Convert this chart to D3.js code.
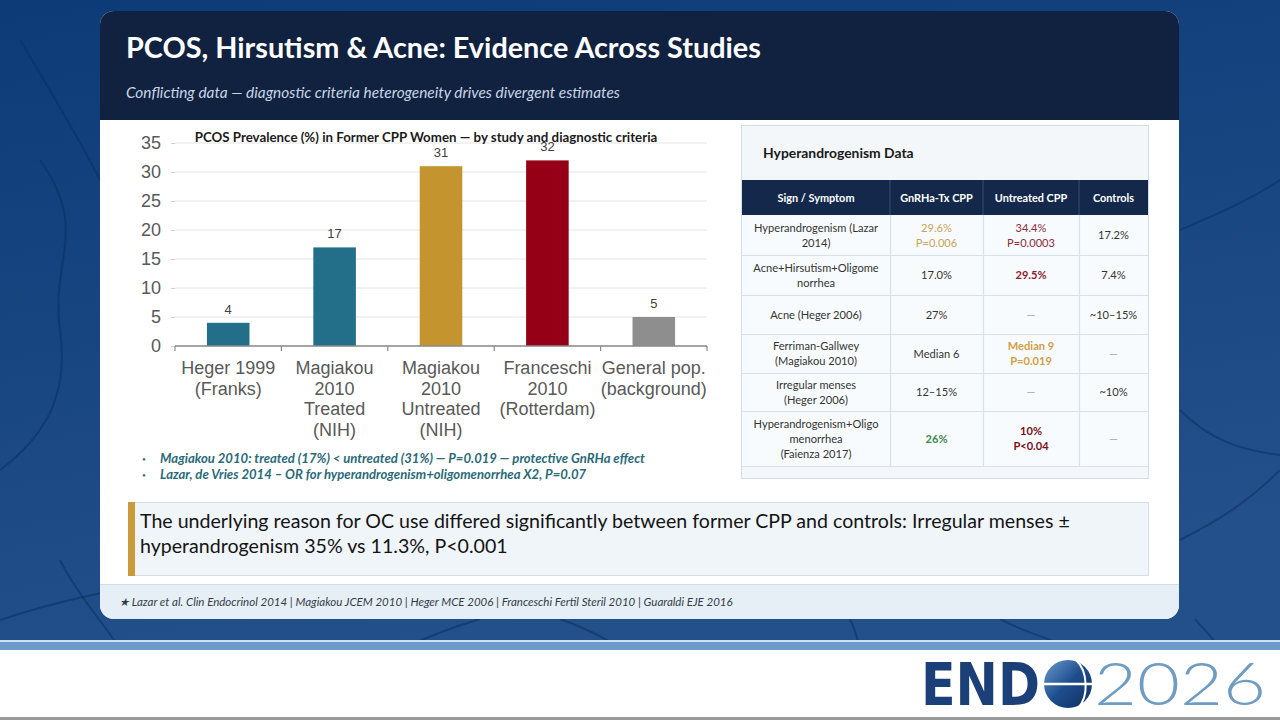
<!DOCTYPE html>
<html>
<head>
<meta charset="utf-8">
<script src="https://cdn.jsdelivr.net/npm/d3@7"></script>
<style>
  html, body { margin: 0; padding: 0; background: #fff; }
  svg { display: block; }
  .cal { font-family: Lato, "Open Sans", sans-serif; }
  .arial { font-family: "Liberation Sans", Arial, sans-serif; }
</style>
</head>
<body>
<div id="slide"></div>
<script>
// ---- Chart data ----
var studies = ["Heger 1999|(Franks)", "Magiakou|2010|Treated|(NIH)", "Magiakou|2010|Untreated|(NIH)", "Franceschi|2010|(Rotterdam)", "General pop.|(background)"];
var prevalence = [4, 17, 31, 32, 5];
var yTicks = [0, 5, 10, 15, 20, 25, 30, 35];

// ---- Table data ----
var tableHeader = ["Sign / Symptom", "GnRHa-Tx CPP", "Untreated CPP", "Controls"];
var signs = ["Hyperandrogenism (Lazar|2014)", "Acne+Hirsutism+Oligome|norrhea", "Acne (Heger 2006)", "Ferriman-Gallwey|(Magiakou 2010)", "Irregular menses|(Heger 2006)", "Hyperandrogenism+Oligo|menorrhea|(Faienza 2017)"];
var gnrhaTx = ["29.6%|P=0.006", "17.0%", "27%", "Median 6", "12–15%", "26%"];
var untreated = ["34.4%|P=0.0003", "29.5%", "—", "Median 9|P=0.019", "—", "10%|P<0.04"];
var controls = ["17.2%", "7.4%", "~10–15%", "—", "~10%", "—"];

var bullets = [
  "Magiakou 2010: treated (17%) < untreated (31%) — P=0.019 — protective GnRHa effect",
  "Lazar, de Vries 2014 – OR for hyperandrogenism+oligomenorrhea X2, P=0.07"
];
var calloutLines = [
  "The underlying reason for OC use differed significantly between former CPP and controls: Irregular menses ±",
  "hyperandrogenism 35% vs 11.3%, P<0.001"
];
var footnote = "★ Lazar et al. Clin Endocrinol 2014 | Magiakou JCEM 2010 | Heger MCE 2006 | Franceschi Fertil Steril 2010 | Guaraldi EJE 2016";

var W = 1280, H = 720;
var svg = d3.select("#slide").append("svg").attr("width", W).attr("height", H);
var defs = svg.append("defs");

// ---- Background ----
var bg = defs.append("linearGradient").attr("id", "bg").attr("x1", 0).attr("y1", 0).attr("x2", 0.3).attr("y2", 1);
bg.append("stop").attr("offset", 0).attr("stop-color", "#0c3b77");
bg.append("stop").attr("offset", 1).attr("stop-color", "#23508a");
svg.append("rect").attr("width", W).attr("height", 650).attr("fill", "url(#bg)");

// faint vein lines in the backdrop
var veins = [
  "M0,470 C40,440 70,400 60,330 S90,230 40,160",
  "M0,620 C60,600 110,590 180,580",
  "M60,560 C80,600 110,630 120,650",
  "M20,40 C50,90 80,140 100,180",
  "M1180,230 C1215,215 1250,200 1280,180",
  "M1180,540 C1220,520 1250,500 1280,470",
  "M1180,410 C1210,440 1240,450 1280,455",
  "M1195,619 C1205,630 1215,640 1220,650",
  "M560,619 C590,630 610,640 620,650",
  "M400,650 C430,635 460,625 480,619",
  "M850,619 C855,630 858,640 860,650",
  "M1000,619 C1020,630 1050,640 1080,650"
];
svg.append("g").selectAll("path").data(veins).join("path")
  .attr("d", function(d){ return d; })
  .attr("fill", "none")
  .attr("stroke", "#0a2f63")
  .attr("stroke-opacity", 0.55)
  .attr("stroke-width", 2);

// bottom band + logo strip
svg.append("rect").attr("x", 0).attr("y", 640).attr("width", W).attr("height", 2).attr("fill", "#cfe2f3");
svg.append("rect").attr("x", 0).attr("y", 642).attr("width", W).attr("height", 8).attr("fill", "#6d9acb");
svg.append("rect").attr("x", 0).attr("y", 650).attr("width", W).attr("height", 68).attr("fill", "#ffffff");
svg.append("rect").attr("x", 0).attr("y", 717).attr("width", W).attr("height", 3).attr("fill", "#9a9a9a");

// ---- Card ----
var card = { x: 100, y: 11, w: 1079, h: 608, r: 14 };
defs.append("clipPath").attr("id", "cardClip").append("rect")
  .attr("x", card.x).attr("y", card.y).attr("width", card.w).attr("height", card.h).attr("rx", card.r);
var cardG = svg.append("g").attr("clip-path", "url(#cardClip)");
cardG.append("rect").attr("x", card.x).attr("y", card.y).attr("width", card.w).attr("height", card.h).attr("fill", "#ffffff");
cardG.append("rect").attr("x", card.x).attr("y", card.y).attr("width", card.w).attr("height", 109).attr("fill", "#10223f");
cardG.append("rect").attr("x", card.x).attr("y", 585).attr("width", card.w).attr("height", 40).attr("fill", "#e7eff6");
cardG.append("rect").attr("x", card.x).attr("y", 584).attr("width", card.w).attr("height", 1).attr("fill", "#d2dde8");

svg.append("text").attr("class", "cal")
  .attr("x", 126).attr("y", 58)
  .attr("fill", "#ffffff").attr("font-size", 28.8).attr("font-weight", 700)
  .text("PCOS, Hirsutism & Acne: Evidence Across Studies");
svg.append("text").attr("class", "cal")
  .attr("x", 126).attr("y", 98)
  .attr("fill", "#c9d5e6").attr("font-size", 15.4).attr("font-style", "italic")
  .text("Conflicting data — diagnostic criteria heterogeneity drives divergent estimates");

// ---- Bar chart ----
var margin = { top: 143, left: 175 };
var cw = 707 - 175, ch = 346 - 143;
var chart = svg.append("g").attr("transform", "translate(" + margin.left + "," + margin.top + ")");

var x = d3.scaleBand().domain(studies).range([0, cw]).paddingInner(0.6).paddingOuter(0.3);
var y = d3.scaleLinear().domain([0, 35]).range([ch, 0]);
var colors = d3.scaleOrdinal().domain(studies).range(["#236f8a", "#236f8a", "#c4952f", "#950017", "#8e8e8e"]);

// gridlines
chart.append("g").selectAll("line").data(yTicks).join("line")
  .attr("x1", 0).attr("x2", cw)
  .attr("y1", function(d){ return y(d); }).attr("y2", function(d){ return y(d); })
  .attr("stroke", "#e4e4e4").attr("stroke-width", 1);

var yAxis = d3.axisLeft(y).tickValues(yTicks).tickSize(4).tickPadding(10);
var yAxisG = chart.append("g").attr("class", "arial").call(yAxis);
yAxisG.select(".domain").remove();
yAxisG.selectAll("line").attr("stroke", "#d0d0d0");
yAxisG.selectAll("text").attr("font-size", 18).attr("fill", "#595959").attr("font-family", "Liberation Sans, Arial, sans-serif");

// bars
chart.selectAll(".bar").data(prevalence).join("rect")
  .attr("class", "bar")
  .attr("x", function(d, i){ return x(studies[i]); })
  .attr("width", x.bandwidth())
  .attr("y", function(d){ return y(d); })
  .attr("height", function(d){ return ch - y(d); })
  .attr("fill", function(d, i){ return colors(studies[i]); });

// value labels
chart.selectAll(".val").data(prevalence).join("text")
  .attr("class", "val arial")
  .attr("x", function(d, i){ return x(studies[i]) + x.bandwidth() / 2; })
  .attr("y", function(d){ return y(d) - 9; })
  .attr("text-anchor", "middle")
  .attr("font-size", 13).attr("fill", "#404040")
  .text(function(d){ return d; });

// x axis
var xBase = chart.append("g").attr("transform", "translate(0," + ch + ")");
xBase.append("line").attr("x1", 0).attr("x2", cw).attr("stroke", "#8a8a8a").attr("stroke-width", 1.5);
xBase.selectAll(".xt").data(d3.range(studies.length + 1)).join("line")
  .attr("x1", function(i){ return i * cw / studies.length; })
  .attr("x2", function(i){ return i * cw / studies.length; })
  .attr("y1", 0).attr("y2", 5).attr("stroke", "#8a8a8a").attr("stroke-width", 1.2);

var catLabels = xBase.selectAll(".cat").data(studies).join("text")
  .attr("class", "cat arial")
  .attr("text-anchor", "middle")
  .attr("font-size", 18).attr("fill", "#595959")
  .attr("transform", function(d){ return "translate(" + (x(d) + x.bandwidth() / 2) + ",28)"; });
catLabels.selectAll("tspan").data(function(d){ return d.split("|"); }).join("tspan")
  .attr("x", 0).attr("y", function(d, i){ return i * 20.7; })
  .text(function(d){ return d; });

// chart title (sits over the plot)
svg.append("text").attr("class", "cal")
  .attr("x", 426).attr("y", 142).attr("text-anchor", "middle")
  .attr("font-size", 13.3).attr("font-weight", 700).attr("fill", "#1b1b1b")
  .text("PCOS Prevalence (%) in Former CPP Women — by study and diagnostic criteria");

// bullets
var bl = svg.append("g").selectAll("g").data(bullets).join("g")
  .attr("transform", function(d, i){ return "translate(0," + (463 + i * 16) + ")"; });
bl.append("text").attr("x", 142).attr("font-size", 11).attr("fill", "#2a6a78").text("•");
bl.append("text").attr("class", "cal").attr("x", 160)
  .attr("font-size", 13.1).attr("font-style", "italic").attr("font-weight", 700).attr("fill", "#2a6a78")
  .text(function(d){ return d; });

// ---- Table panel ----
var panel = svg.append("g");
panel.append("rect").attr("x", 741.5).attr("y", 125.5).attr("width", 407).attr("height", 353)
  .attr("fill", "#f3f7fa").attr("stroke", "#d3dde7");
panel.append("text").attr("class", "cal").attr("x", 763).attr("y", 158)
  .attr("font-size", 13.9).attr("font-weight", 700).attr("fill", "#1a1a1a")
  .text("Hyperandrogenism Data");

var colX = [742, 890, 983, 1079, 1148];
var rowY = [215, 255, 295, 334, 373, 411, 466];
var hdrTop = 180;

panel.append("rect").attr("x", colX[0]).attr("y", hdrTop).attr("width", colX[4] - colX[0]).attr("height", rowY[0] - hdrTop).attr("fill", "#13284a");
panel.selectAll(".hdr").data(tableHeader).join("text")
  .attr("class", "hdr cal")
  .attr("x", function(d, i){ return (colX[i] + colX[i + 1]) / 2; })
  .attr("y", (hdrTop + rowY[0]) / 2 + 4)
  .attr("text-anchor", "middle").attr("font-size", 10.9).attr("font-weight", 700).attr("fill", "#ffffff")
  .text(function(d){ return d; });
panel.selectAll(".hdrsep").data(colX.slice(1, 4)).join("line")
  .attr("x1", function(d){ return d; }).attr("x2", function(d){ return d; })
  .attr("y1", hdrTop).attr("y2", rowY[0]).attr("stroke", "#3a4d6b");

panel.selectAll(".rowbg").data(signs).join("rect")
  .attr("x", colX[0]).attr("width", colX[4] - colX[0])
  .attr("y", function(d, i){ return rowY[i]; })
  .attr("height", function(d, i){ return rowY[i + 1] - rowY[i]; })
  .attr("fill", "#f8fbfd");
panel.selectAll(".hline").data(rowY.slice(1)).join("line")
  .attr("x1", colX[0]).attr("x2", colX[4])
  .attr("y1", function(d){ return d + 0.5; }).attr("y2", function(d){ return d + 0.5; })
  .attr("stroke", "#d8e2eb").attr("stroke-width", 1.2);
panel.selectAll(".vline").data(colX.slice(1, 4)).join("line")
  .attr("x1", function(d){ return d + 0.5; }).attr("x2", function(d){ return d + 0.5; })
  .attr("y1", rowY[0]).attr("y2", rowY[6])
  .attr("stroke", "#d8e2eb").attr("stroke-width", 1.2);

// emphasis styles per cell (row, column)
var cellStyle = {
  "0-1": { fill: "#c8a45c", weight: 400 },
  "0-2": { fill: "#8e2b3b", weight: 400 },
  "1-2": { fill: "#8b1b2c", weight: 700 },
  "3-2": { fill: "#d19e45", weight: 700 },
  "5-1": { fill: "#3d8a4c", weight: 700 },
  "5-2": { fill: "#7a1021", weight: 700 }
};
var columns = [signs, gnrhaTx, untreated, controls];
var cells = [];
signs.forEach(function(s, r){
  columns.forEach(function(col, c){
    cells.push({ r: r, c: c, lines: col[r].split("|") });
  });
});
var cellText = panel.selectAll(".cell").data(cells).join("text")
  .attr("class", "cell cal")
  .attr("text-anchor", "middle")
  .attr("font-size", 11.1)
  .attr("fill", function(d){
    var st = cellStyle[d.r + "-" + d.c];
    if (st) return st.fill;
    return d.lines[0] === "—" ? "#a8a8a8" : "#333333";
  })
  .attr("font-weight", function(d){
    var st = cellStyle[d.r + "-" + d.c];
    return st ? st.weight : 400;
  })
  .attr("transform", function(d){
    var cx = (colX[d.c] + colX[d.c + 1]) / 2;
    var cy = (rowY[d.r] + rowY[d.r + 1]) / 2 - (d.lines.length - 1) * 7.5 + 4;
    return "translate(" + cx + "," + cy + ")";
  });
cellText.selectAll("tspan").data(function(d){ return d.lines; }).join("tspan")
  .attr("x", 0).attr("y", function(d, i){ return i * 15; })
  .text(function(d){ return d; });

// ---- Callout ----
svg.append("rect").attr("x", 128.5).attr("y", 502.5).attr("width", 1020).attr("height", 73)
  .attr("fill", "#f0f5fa").attr("stroke", "#d6dfe8");
svg.append("rect").attr("x", 128).attr("y", 502).attr("width", 7).attr("height", 74).attr("fill", "#c99a3a");
svg.append("g").selectAll("text").data(calloutLines).join("text")
  .attr("class", "cal")
  .attr("x", 140).attr("y", function(d, i){ return 528 + i * 25; })
  .attr("font-size", 19.6).attr("fill", "#141414")
  .text(function(d){ return d; });

// footnote
svg.append("text").attr("class", "cal")
  .attr("x", 119).attr("y", 606)
  .attr("font-size", 11.5).attr("font-style", "italic").attr("fill", "#333c48")
  .text(footnote);

// ---- ENDO 2026 logo ----
var logo = svg.append("g");
logo.append("text").attr("x", 921).attr("y", 705)
  .attr("font-family", "'DejaVu Sans', sans-serif").attr("font-weight", 700)
  .attr("font-size", 58).attr("fill", "#1b3f77").attr("textLength", 119).attr("lengthAdjust", "spacingAndGlyphs")
  .text("END");
var globe = defs.append("linearGradient").attr("id", "globe").attr("x1", 0).attr("y1", 0).attr("x2", 1).attr("y2", 1);
globe.append("stop").attr("offset", 0).attr("stop-color", "#6e9bd0");
globe.append("stop").attr("offset", 0.5).attr("stop-color", "#1d4d8c");
globe.append("stop").attr("offset", 1).attr("stop-color", "#102e5f");
logo.append("circle").attr("cx", 1068).attr("cy", 684).attr("r", 24).attr("fill", "url(#globe)");
logo.append("line").attr("x1", 1042).attr("x2", 1094).attr("y1", 684).attr("y2", 684).attr("stroke", "#ffffff").attr("stroke-width", 2.5);
logo.append("path").attr("d", "M1076,660 C1088,671 1089,697 1078,708").attr("fill", "none").attr("stroke", "#ffffff").attr("stroke-width", 2);
logo.append("text").attr("x", 1094).attr("y", 705)
  .attr("font-family", "Lato, 'Open Sans', sans-serif").attr("font-weight", 300)
  .attr("font-size", 60).attr("fill", "#6f9cc2").attr("textLength", 172).attr("lengthAdjust", "spacingAndGlyphs")
  .text("2026");
</script>
</body>
</html>
